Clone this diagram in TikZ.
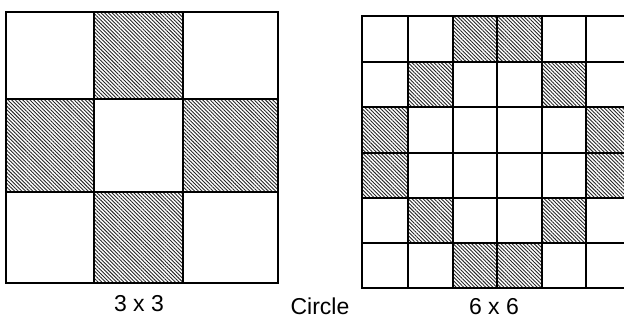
\documentclass[tikz,border=0pt]{standalone}
\usepackage{fontspec}
\setmainfont{Liberation Sans}
\usetikzlibrary{patterns.meta}
\begin{document}
\begin{tikzpicture}[x=1pt,y=-1pt,
  gridline/.style={line width=1.8pt,line cap=rect},
  hatch/.style={pattern={Lines[angle=-45,distance=2.6pt,line width=0.9pt]},pattern color=black!85},
  lbl/.style={font=\fontsize{23}{26}\selectfont,inner sep=0pt,anchor=base}]
\useasboundingbox (0,0) rectangle (624,320);
% ---- 3 x 3 grid ----
\def\xa{{6,94,183,278}}
\def\ya{{12,99,192,283}}
\foreach \r/\c in {0/1,1/0,1/2,2/1}{
  \pgfmathsetmacro\xl{\xa[\c]}\pgfmathsetmacro\xr{\xa[\c+1]}
  \pgfmathsetmacro\yt{\ya[\r]}\pgfmathsetmacro\yb{\ya[\r+1]}
  \fill[hatch] (\xl,\yt) rectangle (\xr,\yb);
}
\foreach \i in {0,...,3}{
  \pgfmathsetmacro\xx{\xa[\i]}
  \draw[gridline] (\xx,12) -- (\xx,283);
  \pgfmathsetmacro\yy{\ya[\i]}
  \draw[gridline] (6,\yy) -- (278,\yy);
}
% ---- 6 x 6 grid ----
\def\xb{{362,408,453,497,542,586,631}}
\def\yb{{16,62,107,153,198,243,288}}
\foreach \r/\c in {0/2,0/3,1/1,1/4,2/0,2/5,3/0,3/5,4/1,4/4,5/2,5/3}{
  \pgfmathsetmacro\xl{\xb[\c]}\pgfmathsetmacro\xr{\xb[\c+1]}
  \pgfmathsetmacro\yt{\yb[\r]}\pgfmathsetmacro\ybb{\yb[\r+1]}
  \fill[hatch] (\xl,\yt) rectangle (\xr,\ybb);
}
\foreach \i in {0,...,6}{
  \pgfmathsetmacro\xx{\xb[\i]}
  \draw[gridline] (\xx,16) -- (\xx,288);
  \pgfmathsetmacro\yy{\yb[\i]}
  \draw[gridline] (362,\yy) -- (631,\yy);
}
% ---- labels ----
\node[lbl] (l33) at (139,312) {3 x 3};
\node[lbl] (lcirc) at (320,315) {Circle};
\node[lbl] (l66) at (494,315) {6 x 6};
\end{tikzpicture}
\end{document}
